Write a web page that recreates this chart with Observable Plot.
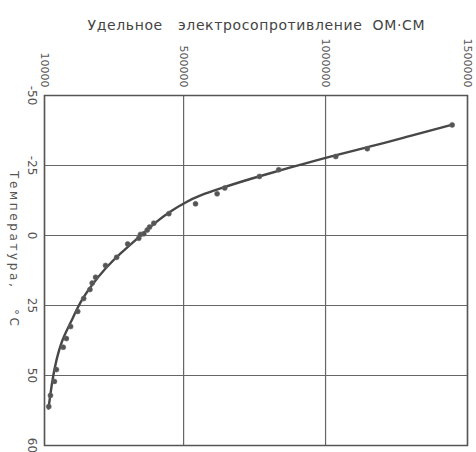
<!DOCTYPE html>
<html><head><meta charset="utf-8">
<script src="https://cdn.jsdelivr.net/npm/d3@7"></script>
<script src="https://cdn.jsdelivr.net/npm/@observablehq/plot@0.6"></script>
<style>body{margin:0;background:#fff} svg{display:block}</style>
</head><body><div id="chart"></div>
<script>
const title = "Удельное   электросопротивление  ОМ·СМ";
const yLabel = "Температура,   °С";

// measured points
const resistivity = [25000, 31000, 45000, 52000, 76000, 87000, 102000, 127000, 148000, 170000,
  178000, 190000, 225000, 264000, 303000, 342000, 348000, 360000, 372000, 380000,
  395000, 448000, 542000, 618000, 645000, 767000, 835000, 1036000, 1147000, 1446000];
const temperature = [61.1, 57.1, 52.1, 47.9, 39.9, 36.8, 32.5, 27.1, 22.5, 19.3,
  17.0, 14.9, 10.7, 7.8, 3.0, 1.0, -0.4, -0.6, -2.0, -3.0,
  -4.4, -7.8, -11.3, -14.9, -17.0, -21.1, -23.5, -28.2, -31.0, -39.5];

// fitted curve
const curveResistivity = [24000, 38000, 52000, 73000, 102000, 137000, 179000, 225000, 278000,
  341000, 401000, 454000, 507000, 560000, 630000, 700000, 771000, 877000, 1017000,
  1158000, 1299000, 1447000];
const curveTemperature = [61.8, 51.8, 44.6, 37.5, 31.1, 23.9, 17.5, 11.8, 6.4,
  0.7, -4.6, -8.6, -11.8, -14.3, -16.8, -19.1, -21.25, -24.3, -28.2,
  -31.8, -35.6, -39.6];

const xTicks = [10000, 500000, 1000000, 1500000];
const xTickLabels = ["10000", "500000", "1000000", "1500000"];
const yTicks = [-50, -25, 0, 25, 50, 75];
const yTickLabels = ["-50", "-25", "0", "25", "50", "60"];

const points = resistivity.map((r, i) => ({r, t: temperature[i]}));
const curve = curveResistivity.map((r, i) => ({r, t: curveTemperature[i]}));

const ink = "#474747";
const chart = Plot.plot({
  width: 476, height: 452,
  marginLeft: 44, marginRight: 9, marginTop: 95, marginBottom: 7,
  x: {domain: [10000, 1500000]},
  y: {domain: [-50, 75], reverse: true},
  style: {fontFamily: "DejaVu Sans", color: "#555", background: "#fff"},
  marks: [
    Plot.gridX(xTicks, {stroke: "#666", strokeOpacity: 1, strokeWidth: 1.2}),
    Plot.gridY(yTicks, {stroke: "#666", strokeOpacity: 1, strokeWidth: 1.2}),
    Plot.frame({stroke: "#555", strokeWidth: 1.5}),
    Plot.axisX(xTicks, {anchor: "top", tickSize: 0, tickPadding: 8, tickRotate: 90,
      textAnchor: "end", lineAnchor: "middle", fontSize: 11, fill: "#555",
      tickFormat: d => xTickLabels[xTicks.indexOf(d)], label: null}),
    Plot.axisY(yTicks, {anchor: "left", tickSize: 0, tickPadding: 13, tickRotate: 90,
      textAnchor: "middle", lineAnchor: "middle", fontSize: 12, fill: "#555",
      tickFormat: d => yTickLabels[yTicks.indexOf(d)], label: null}),
    Plot.line(curve, {x: "r", y: "t", curve: "natural", stroke: ink, strokeWidth: 2.4}),
    Plot.dot(points, {x: "r", y: "t", r: 2.5, fill: "#555", stroke: "#666", strokeWidth: 0.6}),
    Plot.text([title], {frameAnchor: "top", dy: -75, fontSize: 14, fill: "#444",
      className: "ttl"}),
    Plot.text([yLabel], {frameAnchor: "left", rotate: 90, dx: -31, dy: -22, fontSize: 12,
      fill: "#555", textAnchor: "middle", lineAnchor: "middle", className: "ylbl"})
  ]
});
document.getElementById("chart").appendChild(chart);
d3.select(chart).selectAll("g.ttl text").attr("textLength", 337).attr("lengthAdjust", "spacing");
d3.select(chart).selectAll("g.ylbl text").attr("textLength", 155).attr("lengthAdjust", "spacing");
</script>
</body></html>
